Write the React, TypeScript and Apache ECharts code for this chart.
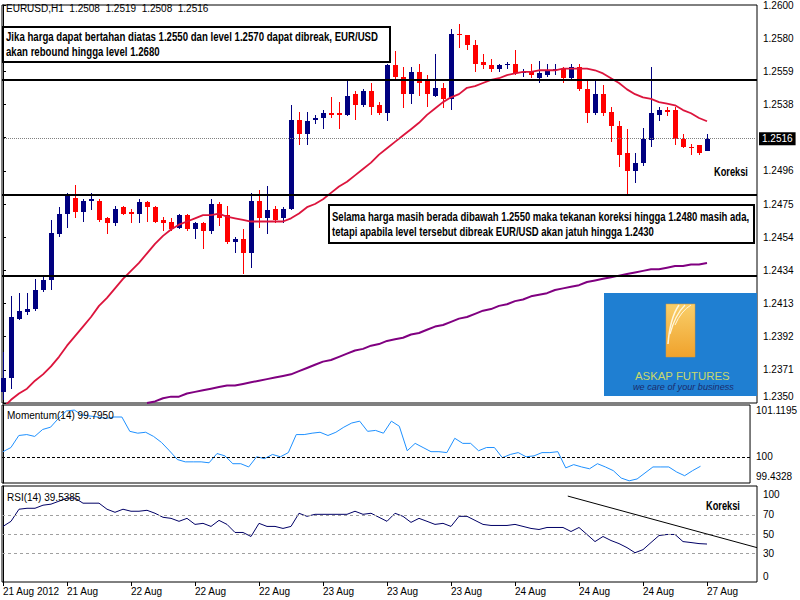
import React, { useEffect, useRef } from 'react';
import * as echarts from 'echarts';

// ---------- DATA ----------
const HEADER = 'EURUSD,H1  1.2508  1.2519  1.2508  1.2516';

const OPEN = [
  1.2357, 1.2366, 1.2403, 1.2407, 1.2409, 1.2421, 1.2427, 1.2456, 1.2469, 1.2479,
  1.2470, 1.2477, 1.2477, 1.2466, 1.2463, 1.2473, 1.2470, 1.2469, 1.2476, 1.2473,
  1.2465, 1.2464, 1.2460, 1.2468, 1.2459, 1.2463, 1.2458, 1.2475, 1.2468, 1.2451,
  1.2453, 1.2444, 1.2477, 1.2466, 1.2472, 1.2466, 1.2472, 1.2528, 1.2519, 1.2528,
  1.2529, 1.2532, 1.2532, 1.2531, 1.2544, 1.2537, 1.2546, 1.2537, 1.2532, 1.2562,
  1.2555, 1.2544, 1.2558, 1.2552, 1.2543, 1.2548, 1.2541, 1.2582, 1.2581, 1.2575,
  1.2564, 1.2562, 1.2560, 1.2562, 1.2563, 1.2557, 1.2558, 1.2554, 1.2556, 1.2559,
  1.2560, 1.2554, 1.2561, 1.2547, 1.2532, 1.2544, 1.2533, 1.2524, 1.2507, 1.2496,
  1.2501, 1.2515, 1.2531, 1.2534, 1.2534, 1.2516, 1.2511, 1.2512, 1.2508,
];
const CLOSE = [
  1.2366, 1.2404, 1.2408, 1.2409, 1.2421, 1.2427, 1.2457, 1.2469, 1.2481, 1.2470,
  1.2477, 1.2478, 1.2465, 1.2463, 1.2472, 1.2469, 1.2469, 1.2476, 1.2473, 1.2464,
  1.2463, 1.2459, 1.2468, 1.2459, 1.2463, 1.2458, 1.2475, 1.2466, 1.2451, 1.2453,
  1.2444, 1.2477, 1.2466, 1.2471, 1.2465, 1.2472, 1.2528, 1.2519, 1.2527, 1.2529,
  1.2532, 1.2531, 1.2531, 1.2543, 1.2537, 1.2546, 1.2536, 1.2532, 1.2562, 1.2555,
  1.2544, 1.2558, 1.2551, 1.2544, 1.2548, 1.2541, 1.2582, 1.2581, 1.2575, 1.2563,
  1.2562, 1.2560, 1.2562, 1.2563, 1.2557, 1.2558, 1.2556, 1.2557, 1.2559, 1.2560,
  1.2554, 1.2561, 1.2547, 1.2532, 1.2544, 1.2532, 1.2524, 1.2506, 1.2496, 1.2501,
  1.2516, 1.2532, 1.2534, 1.2533, 1.2516, 1.2511, 1.2510, 1.2507, 1.2516,
];
const HIGH = [
  1.2382, 1.2417, 1.2419, 1.2419, 1.2428, 1.2429, 1.2465, 1.2473, 1.2482, 1.2487,
  1.2478, 1.2482, 1.2478, 1.2467, 1.2474, 1.2474, 1.2472, 1.2478, 1.2477, 1.2474,
  1.2467, 1.2466, 1.2469, 1.2469, 1.2464, 1.2464, 1.2478, 1.2476, 1.2474, 1.2454,
  1.2459, 1.2482, 1.2484, 1.2486, 1.2474, 1.2473, 1.2537, 1.2533, 1.2533, 1.2531,
  1.2534, 1.2542, 1.2539, 1.2552, 1.2546, 1.2547, 1.2551, 1.2539, 1.2563, 1.2571,
  1.2561, 1.2561, 1.2563, 1.2556, 1.2569, 1.2551, 1.2585, 1.2588, 1.2581, 1.2578,
  1.2569, 1.2566, 1.2563, 1.2564, 1.2572, 1.2560, 1.2563, 1.2565, 1.2563, 1.2563,
  1.2561, 1.2563, 1.2563, 1.2553, 1.2553, 1.2550, 1.2536, 1.2527, 1.2522, 1.2507,
  1.2523, 1.2561, 1.2536, 1.2536, 1.2536, 1.2519, 1.2513, 1.2512, 1.2519,
];
const LOW = [
  1.2352, 1.2359, 1.2402, 1.2405, 1.2408, 1.2420, 1.2421, 1.2454, 1.2460, 1.2466,
  1.2464, 1.2471, 1.2464, 1.2456, 1.2461, 1.2468, 1.2463, 1.2463, 1.2464, 1.2463,
  1.2458, 1.2458, 1.2459, 1.2458, 1.2453, 1.2447, 1.2456, 1.2461, 1.2450, 1.2444,
  1.2431, 1.2435, 1.2460, 1.2456, 1.2463, 1.2463, 1.2471, 1.2512, 1.2512, 1.2525,
  1.2522, 1.2529, 1.2522, 1.2530, 1.2528, 1.2536, 1.2531, 1.2531, 1.2527, 1.2552,
  1.2535, 1.2538, 1.2543, 1.2536, 1.2542, 1.2535, 1.2534, 1.2573, 1.2572, 1.2558,
  1.2560, 1.2558, 1.2558, 1.2560, 1.2556, 1.2555, 1.2554, 1.2551, 1.2555, 1.2556,
  1.2551, 1.2552, 1.2546, 1.2526, 1.2531, 1.2530, 1.2514, 1.2498, 1.2481, 1.2488,
  1.2499, 1.2511, 1.2527, 1.2530, 1.2512, 1.2510, 1.2506, 1.2506, 1.2508,
];

// red moving average (one value per candle)
const MA_FAST = [
  1.2347, 1.2352, 1.2356, 1.2359, 1.2364, 1.2368, 1.2373, 1.2379, 1.2386, 1.2392,
  1.2398, 1.2404, 1.2411, 1.2416, 1.2422, 1.2428, 1.2433, 1.2438, 1.2444, 1.2450,
  1.2455, 1.2459, 1.2462, 1.2464, 1.2466, 1.2468, 1.2468, 1.2469, 1.2467, 1.2466,
  1.2465, 1.2464, 1.2464, 1.2464, 1.2464, 1.2464, 1.2466, 1.2469, 1.2473, 1.2475,
  1.2478, 1.2482, 1.2486, 1.2489, 1.2493, 1.2497, 1.2501, 1.2506, 1.2510, 1.2514,
  1.2518, 1.2522, 1.2526, 1.2531, 1.2535, 1.2539, 1.2542, 1.2544, 1.2548, 1.2549,
  1.2551, 1.2553, 1.2554, 1.2556, 1.2557, 1.2558, 1.2558, 1.2559, 1.2559, 1.2559,
  1.2560, 1.2560, 1.2560, 1.2560, 1.2559, 1.2557, 1.2554, 1.2551, 1.2547, 1.2544,
  1.2542, 1.2541, 1.2539, 1.2538, 1.2537, 1.2534, 1.2532, 1.2529, 1.2527,
];

// purple moving average, visible from candle MA_SLOW_START on
const MA_SLOW_START = 18;
const MA_SLOW = [
  1.2350, 1.2351, 1.2353, 1.2354, 1.2354, 1.2356, 1.2357, 1.2358, 1.2359, 1.2360,
  1.2361, 1.2361, 1.2362, 1.2363, 1.2364, 1.2365, 1.2366, 1.2367, 1.2368, 1.2370,
  1.2372, 1.2374, 1.2376, 1.2377, 1.2379, 1.2381, 1.2383, 1.2384, 1.2386, 1.2387,
  1.2389, 1.2390, 1.2391, 1.2393, 1.2394, 1.2396, 1.2398, 1.2399, 1.2401, 1.2403,
  1.2404, 1.2406, 1.2408, 1.2409, 1.2411, 1.2412, 1.2414, 1.2415, 1.2417, 1.2418,
  1.2419, 1.2421, 1.2422, 1.2423, 1.2424, 1.2426, 1.2427, 1.2428, 1.2429, 1.2430,
  1.2431, 1.2432, 1.2433, 1.2434, 1.2434, 1.2435, 1.2436, 1.2436, 1.2437, 1.2437, 1.2438,
];

const MOMENTUM = [
  100.11, 100.20, 100.46, 100.48, 100.44, 100.59, 100.64, 100.83, 100.99, 101.01,
  100.90, 100.88, 100.86, 100.83, 100.86, 100.86, 100.55, 100.51, 100.53, 100.44,
  100.31, 100.13, 99.94, 99.89, 99.89, 99.89, 99.87, 100.07, 100.02, 99.85,
  99.85, 99.78, 100.00, 99.96, 100.05, 100.00, 100.09, 100.48, 100.48, 100.51,
  100.53, 100.46, 100.53, 100.64, 100.73, 100.77, 100.55, 100.57, 100.51, 100.77,
  100.66, 100.13, 100.29, 100.20, 100.11, 100.11, 100.09, 100.40, 100.29, 100.29,
  100.13, 100.20, 100.20, 99.98, 100.05, 100.09, 100.00, 100.02, 100.09, 100.09,
  100.11, 99.76, 99.83, 99.78, 99.74, 99.85, 99.78, 99.70, 99.54, 99.48,
  99.52, 99.65, 99.78, 99.78, 99.78, 99.67, 99.59, 99.70, 99.795,
];

const RSI = [
  57.9, 63.2, 75.8, 76.8, 76.8, 80.0, 81.1, 84.2, 87.4, 87.4,
  82.1, 82.1, 82.1, 75.8, 72.6, 75.8, 73.7, 73.7, 74.7, 71.6,
  67.4, 66.3, 63.2, 66.3, 60.0, 61.1, 57.9, 64.2, 60.0, 51.6,
  51.6, 47.4, 61.1, 57.9, 57.9, 55.8, 57.9, 71.6, 68.4, 70.5,
  70.5, 70.5, 70.5, 70.5, 73.7, 70.5, 71.6, 67.4, 63.2, 71.6,
  68.4, 62.1, 66.3, 63.2, 60.0, 61.1, 57.9, 68.4, 68.4, 64.2,
  60.0, 58.9, 58.9, 58.9, 60.0, 57.9, 55.8, 54.7, 56.8, 56.8,
  56.8, 52.6, 56.8, 49.5, 42.1, 47.4, 43.2, 40.0, 35.8, 30.5,
  33.7, 41.1, 48.4, 49.5, 49.5, 42.1, 41.1, 40.0, 39.5385,
];

const LEVELS = [1.2553, 1.2481, 1.2430];
const CURRENT_PRICE = 1.2516;
const PRICE_MIN = 1.2350;
const PRICE_MAX = 1.2600;
const PRICE_TICK_LABELS = ['1.2350', '1.2371', '1.2392', '1.2413', '1.2434', '1.2454', '1.2475', '1.2496', '1.2517', '1.2538', '1.2559', '1.2580', '1.2600'];
const MOM_MIN = 99.4328;
const MOM_MAX = 101.1195;
const MOM_LEVEL = 100;
const RSI_LEVELS = [70, 50, 30];
const RSI_TREND = [[70.6, 89.5], [94.25, 35.8]];
const X_TICK_LABELS = ['21 Aug 2012', '21 Aug', '22 Aug', '22 Aug', '22 Aug', '23 Aug', '23 Aug', '23 Aug', '24 Aug', '24 Aug', '24 Aug', '27 Aug'];
const BARS_PER_LABEL = 8;

const NOTE_TOP = ['Jika harga dapat bertahan diatas 1.2550 dan level 1.2570 dapat dibreak, EUR/USD', 'akan rebound hingga level 1.2680'];
const NOTE_BOTTOM = ['Selama harga masih berada dibawah 1.2550 maka tekanan koreksi hingga 1.2480 masih ada,', 'tetapi apabila level tersebut dibreak EUR/USD akan jatuh hingga 1.2430'];
const KOREKSI = 'Koreksi';
const LOGO_NAME = 'ASKAP FUTURES';
const LOGO_TAGLINE = 'we care of your business';

// ---------- STYLE ----------
const FONT = '"Liberation Sans", Arial, sans-serif';
const NOTE_FONT = 'bold 13px "Liberation Sans", Arial, sans-serif';
const BULL = '#000080';
const BEAR = '#ff0000';
const X_MIN = -0.125;
const X_MAX = 94.25;

function textWidth(text: string, font: string): number {
  const ctx = document.createElement('canvas').getContext('2d');
  if (!ctx) return text.length * 7;
  ctx.font = font;
  return ctx.measureText(text).width;
}

function buildOption() {
  const candleData = OPEN.map((o, i) => [i, o, CLOSE[i], LOW[i], HIGH[i]]);
  const fastData = MA_FAST.map((v, i) => [i, v]);
  const slowData = MA_SLOW.map((v, k) => [MA_SLOW_START + k, v]);
  const momData = MOMENTUM.map((v, i) => [i, v]);
  const rsiData = RSI.map((v, i) => [i, v]);
  const xTicks = X_TICK_LABELS.map((_, k) => k * BARS_PER_LABEL);

  const step = (PRICE_MAX - PRICE_MIN) / (PRICE_TICK_LABELS.length - 1);
  const priceTicks = PRICE_TICK_LABELS.map((_, k) => PRICE_MIN + k * step);
  const curIdx = Math.round((CURRENT_PRICE - PRICE_MIN) / step);
  const priceLabelVals = priceTicks
    .map((v, k) => (k === 0 ? v + 0.0004 : v))
    .filter((_, k) => k !== curIdx);

  const s1 = 372 / textWidth(NOTE_TOP[0], NOTE_FONT);
  const s2 = 418 / textWidth(NOTE_BOTTOM[0], NOTE_FONT);
  const sK = 34 / textWidth(KOREKSI, NOTE_FONT);
  const LOGO_FONT = '11px ' + FONT;
  const TAG_FONT = 'italic 9px ' + FONT;
  const sLogo = 95 / textWidth(LOGO_NAME, LOGO_FONT);
  const sTag = 101 / textWidth(LOGO_TAGLINE, TAG_FONT);

  const gridBase = { left: 2, width: 755, show: true, borderColor: '#000', borderWidth: 1, backgroundColor: '#fff' };

  const noteText = (text: string, x: number, y: number, sx: number) => ({
    type: 'text', x, y, scaleX: sx, z: 101,
    style: { text, font: NOTE_FONT, fill: '#000', textVerticalAlign: 'middle' },
  });

  const smallText = (text: string, x: number, y: number) => ({
    type: 'text', x, y, z: 101,
    style: { text, font: '10px ' + FONT, fill: '#000', textVerticalAlign: 'middle' },
  });

  return {
    animation: false,
    backgroundColor: '#fff',
    grid: [
      { ...gridBase, top: 3, height: 400 },
      { ...gridBase, top: 405, height: 78 },
      { ...gridBase, top: 486, height: 96 },
    ],
    xAxis: [0, 1, 2].map((g) => ({
      type: 'value', gridIndex: g, min: X_MIN, max: X_MAX,
      axisLine: { show: false },
      splitLine: { show: false },
      axisTick: g === 2
        ? { show: true, customValues: xTicks, length: 4, lineStyle: { color: '#000' } }
        : { show: false },
      axisLabel: g === 2
        ? {
            show: true, customValues: xTicks, align: 'left', margin: 4,
            color: '#000', fontSize: 10, fontFamily: FONT,
            formatter: (v: number) => X_TICK_LABELS[Math.round(v / BARS_PER_LABEL)] || '',
          }
        : { show: false },
    })),
    yAxis: [
      {
        type: 'value', gridIndex: 0, position: 'right', min: PRICE_MIN, max: PRICE_MAX,
        axisLine: { show: true, lineStyle: { color: '#000' } },
        splitLine: { show: false },
        axisTick: { show: true, customValues: priceTicks, length: 3, lineStyle: { color: '#000' } },
        axisLabel: {
          customValues: priceLabelVals, margin: 6, color: '#000', fontSize: 10, fontFamily: FONT,
          formatter: (v: number) => PRICE_TICK_LABELS[Math.round((v - PRICE_MIN) / step)] || '',
        },
      },
      {
        type: 'value', gridIndex: 1, position: 'right', min: MOM_MIN, max: MOM_MAX,
        axisLine: { show: true, lineStyle: { color: '#000' } },
        splitLine: { show: false },
        axisTick: { show: false },
        axisLabel: {
          customValues: [MOM_MIN + 0.13, MOM_LEVEL, MOM_MAX - 0.12], margin: 6, color: '#000', fontSize: 10, fontFamily: FONT,
          formatter: (v: number) => (v > MOM_LEVEL + 0.5 ? MOM_MAX.toFixed(4) : v < MOM_LEVEL - 0.3 ? MOM_MIN.toFixed(4) : String(MOM_LEVEL)),
        },
      },
      {
        type: 'value', gridIndex: 2, position: 'right', min: 0, max: 100,
        axisLine: { show: true, lineStyle: { color: '#000' } },
        splitLine: { show: false },
        axisTick: { show: false },
        axisLabel: {
          customValues: [6, 30, 50, 70, 91], margin: 6, color: '#000', fontSize: 10, fontFamily: FONT,
          formatter: (v: number) => (v < 15 ? '0' : v > 85 ? '100' : String(v)),
        },
      },
    ],
    series: [
      {
        type: 'custom', name: 'EURUSD', xAxisIndex: 0, yAxisIndex: 0,
        data: candleData,
        encode: { x: 0, y: [1, 2, 3, 4] },
        z: 3,
        renderItem: (_params: any, api: any) => {
          const i = api.value(0);
          const o = api.value(1);
          const c = api.value(2);
          const l = api.value(3);
          const h = api.value(4);
          const pO = api.coord([i, o]);
          const pC = api.coord([i, c]);
          const pL = api.coord([i, l]);
          const pH = api.coord([i, h]);
          const x = Math.floor(pO[0]);
          const color = c >= o ? BULL : BEAR;
          const top = Math.round(Math.min(pO[1], pC[1]));
          const bot = Math.round(Math.max(pO[1], pC[1]));
          const hy = Math.round(pH[1]);
          const ly = Math.round(pL[1]);
          return {
            type: 'group',
            children: [
              { type: 'rect', shape: { x, y: hy, width: 1, height: Math.max(1, ly - hy) }, style: { fill: color } },
              { type: 'rect', shape: { x: x - 2, y: top, width: 5, height: Math.max(1, bot - top) }, style: { fill: color } },
            ],
          };
        },
      },
      {
        type: 'line', name: 'MA fast', xAxisIndex: 0, yAxisIndex: 0,
        data: fastData, showSymbol: false, z: 4,
        lineStyle: { color: '#dc143c', width: 1.8 },
        markLine: {
          silent: true, symbol: 'none', precision: 6, label: { show: false },
          lineStyle: { color: '#000', width: 2, type: 'solid' },
          data: LEVELS.map((v) => ({ yAxis: v })),
        },
      },
      {
        type: 'line', name: 'MA slow', xAxisIndex: 0, yAxisIndex: 0,
        data: slowData, showSymbol: false, z: 4,
        lineStyle: { color: '#800080', width: 2 },
        markLine: {
          silent: true, symbol: 'none', precision: 6,
          lineStyle: { color: '#808080', width: 1, type: [1, 1] },
          label: {
            show: true, position: 'end', distance: 2,
            formatter: () => CURRENT_PRICE.toFixed(4),
            backgroundColor: '#000', color: '#fff', padding: [2, 3, 1, 3],
            fontSize: 10, fontFamily: FONT,
          },
          data: [{ yAxis: CURRENT_PRICE }],
        },
      },
      {
        type: 'line', name: 'Momentum(14)', xAxisIndex: 1, yAxisIndex: 1,
        data: momData, showSymbol: false,
        lineStyle: { color: '#1e90ff', width: 1 },
        markLine: {
          silent: true, symbol: 'none', precision: 6, label: { show: false },
          lineStyle: { color: '#000', width: 1, type: [3, 2] },
          data: [{ yAxis: MOM_LEVEL }],
        },
      },
      {
        type: 'line', name: 'RSI(14)', xAxisIndex: 2, yAxisIndex: 2,
        data: rsiData, showSymbol: false,
        lineStyle: { color: '#000066', width: 1 },
        markLine: {
          silent: true, symbol: 'none', precision: 6, label: { show: false },
          lineStyle: { color: '#a0a0a0', width: 1, type: [3, 3] },
          data: [
            ...RSI_LEVELS.map((v) => ({ yAxis: v })),
            [
              { coord: RSI_TREND[0], lineStyle: { color: '#000', width: 1, type: 'solid' } },
              { coord: RSI_TREND[1] },
            ],
          ],
        },
      },
    ],
    graphic: {
      elements: [
        smallText(HEADER, 6, 8),
        smallText('Momentum(14) ' + MOMENTUM[MOMENTUM.length - 1].toFixed(4), 7, 415),
        smallText('RSI(14) ' + RSI[RSI.length - 1].toFixed(4), 7, 497),
        { type: 'rect', z: 100, shape: { x: 3, y: 27, width: 387, height: 35 }, style: { fill: '#fff', stroke: '#000', lineWidth: 2 } },
        noteText(NOTE_TOP[0], 6, 36.5, s1),
        noteText(NOTE_TOP[1], 6, 51.5, s1),
        { type: 'rect', z: 100, shape: { x: 329, y: 205, width: 425, height: 38 }, style: { fill: '#fff', stroke: '#000', lineWidth: 2 } },
        noteText(NOTE_BOTTOM[0], 332, 216, s2),
        noteText(NOTE_BOTTOM[1], 332, 231, s2),
        noteText(KOREKSI, 714, 171, sK),
        noteText(KOREKSI, 706, 505, sK),
        // ASKAP FUTURES logo
        { type: 'rect', z: 100, shape: { x: 604, y: 293, width: 153, height: 103 }, style: { fill: '#1f7fd2' } },
        {
          type: 'rect', z: 101, shape: { x: 666, y: 304, width: 29, height: 53 },
          style: {
            fill: new echarts.graphic.LinearGradient(0, 0, 0, 1, [
              { offset: 0, color: '#f9cf6a' },
              { offset: 1, color: '#f0a22c' },
            ]),
            stroke: '#d99a3a', lineWidth: 0.5,
          },
        },
        { type: 'bezierCurve', z: 102, shape: { x1: 679, y1: 305, x2: 668, y2: 344, cpx1: 670, cpy1: 318 }, style: { stroke: '#fff6dc', lineWidth: 1.5, fill: 'none' } },
        { type: 'bezierCurve', z: 102, shape: { x1: 685, y1: 305, x2: 670, y2: 334, cpx1: 675, cpy1: 315 }, style: { stroke: '#fff6dc', lineWidth: 1.2, fill: 'none' } },
        { type: 'bezierCurve', z: 102, shape: { x1: 691, y1: 305, x2: 675, y2: 325, cpx1: 681, cpy1: 311 }, style: { stroke: '#fff6dc', lineWidth: 1, fill: 'none' } },
        {
          type: 'text', z: 102, x: 635, y: 376, scaleX: sLogo,
          style: { text: LOGO_NAME, font: LOGO_FONT, fill: '#c9d86c', textVerticalAlign: 'middle' },
        },
        {
          type: 'text', z: 102, x: 633, y: 387, scaleX: sTag,
          style: { text: LOGO_TAGLINE, font: TAG_FONT, fill: '#1b2b6b', textVerticalAlign: 'middle' },
        },
      ],
    },
  };
}

export default function App() {
  const ref = useRef<HTMLDivElement>(null);
  useEffect(() => {
    if (!ref.current) return;
    const chart = echarts.init(ref.current, null, { renderer: 'svg' });
    chart.setOption(buildOption() as any);
    return () => chart.dispose();
  }, []);
  return (
    <div
      ref={ref}
      style={{ position: 'fixed', left: 0, top: 0, width: 800, height: 600, background: '#fff' }}
    />
  );
}
